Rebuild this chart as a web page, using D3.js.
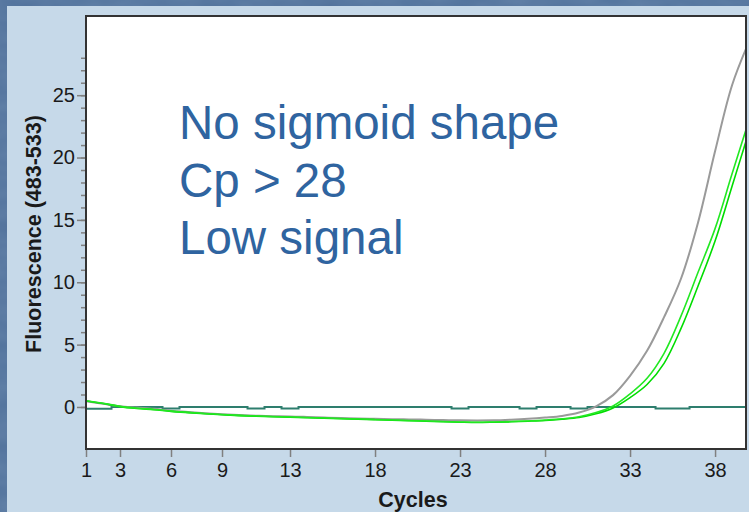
<!DOCTYPE html>
<html>
<head>
<meta charset="utf-8">
<script src="https://cdn.jsdelivr.net/npm/d3@7"></script>
<style>
  html, body { margin: 0; padding: 0; background: #50719b; }
  svg { display: block; }
</style>
</head>
<body>
<svg id="chart" width="749" height="512"></svg>
<script>
// ---- Data ----
const cycles = d3.range(1, 41); // 1..40
const grayCurve = [0.45, 0.25, 0.05, -0.05, -0.15, -0.3, -0.4, -0.5, -0.58, -0.65,
  -0.7, -0.74, -0.77, -0.8, -0.85, -0.88, -0.92, -0.95, -0.98, -1.0,
  -1.02, -1.05, -1.07, -1.08, -1.07, -1.02, -0.95, -0.85, -0.72, -0.45,
  0.05, 0.95, 2.5, 4.5, 7.2, 10.3, 14.8, 20.5, 25.8, 29.3];
const greenCurveA = [0.5, 0.3, 0.05, -0.1, -0.2, -0.33, -0.43, -0.52, -0.6, -0.67,
  -0.72, -0.76, -0.8, -0.84, -0.88, -0.92, -0.96, -1.0, -1.04, -1.08,
  -1.12, -1.17, -1.2, -1.22, -1.2, -1.17, -1.12, -1.05, -0.95, -0.78,
  -0.45, 0.08, 1.05, 2.3, 4.3, 7.3, 10.8, 14.3, 18.7, 23.0];
const greenCurveB = [0.48, 0.28, 0.03, -0.12, -0.22, -0.35, -0.45, -0.54, -0.62, -0.69,
  -0.74, -0.78, -0.82, -0.86, -0.9, -0.94, -0.98, -1.02, -1.06, -1.1,
  -1.14, -1.19, -1.22, -1.24, -1.22, -1.19, -1.14, -1.08, -0.98, -0.84,
  -0.55, -0.08, 0.75, 1.8, 3.5, 6.3, 9.7, 13.3, 17.7, 22.1];
const tealCurve = [-0.15, -0.15, 0, 0, 0, -0.12, 0, 0, 0, 0,
  -0.12, 0, -0.12, 0, 0, 0, 0, 0, 0, 0,
  0, 0, -0.12, 0, 0, 0, -0.12, 0, 0, -0.12,
  0, 0, 0, 0, -0.12, -0.12, 0, 0, 0, 0];
const xTickValues = [1, 3, 6, 9, 13, 18, 23, 28, 33, 38];
const yTickValues = [0, 5, 10, 15, 20, 25];
const yMinorTickValues = d3.range(0, 29);
const annotationLines = ["No sigmoid shape", "Cp > 28", "Low signal"];
const xLabel = "Cycles";
const yLabel = "Fluorescence (483-533)";

// ---- Layout ----
const W = 749, H = 512;
const plot = { left: 86, right: 746, top: 16, bottom: 449 };

const svg = d3.select("#chart");

// mottled slide background
const defs = svg.append("defs");
const filt = defs.append("filter").attr("id", "mottle").attr("x", 0).attr("y", 0).attr("width", "100%").attr("height", "100%");
filt.append("feTurbulence").attr("type", "fractalNoise").attr("baseFrequency", "0.02 0.05").attr("numOctaves", 3).attr("seed", 4).attr("result", "noise");
filt.append("feColorMatrix").attr("in", "noise").attr("type", "matrix")
  .attr("values", "0 0 0 0 0.38  0 0 0 0 0.52  0 0 0 0 0.68  0 0 0 0.45 0");

svg.append("rect").attr("x", 0).attr("y", 0).attr("width", W).attr("height", H).attr("fill", "#50719b");
svg.append("rect").attr("x", 0).attr("y", 0).attr("width", W).attr("height", H).attr("filter", "url(#mottle)").attr("opacity", 0.5);
// light panel
svg.append("rect").attr("x", 7).attr("y", 6).attr("width", W - 7).attr("height", H - 6).attr("fill", "#c6d9e9");

const x = d3.scaleLinear().domain([1, 39.82]).range([plot.left, plot.right]);
const y = d3.scaleLinear().domain([-3.37, 31.35]).range([plot.bottom, plot.top]);

// plot area
svg.append("rect")
  .attr("x", plot.left).attr("y", plot.top)
  .attr("width", plot.right - plot.left).attr("height", plot.bottom - plot.top)
  .attr("fill", "#ffffff");

defs.append("clipPath").attr("id", "clip")
  .append("rect")
  .attr("x", plot.left).attr("y", plot.top)
  .attr("width", plot.right - plot.left).attr("height", plot.bottom - plot.top);

const font = "'Liberation Sans', Arial, sans-serif";

// annotation text
const ann = svg.append("text")
  .attr("x", 179).attr("y", 139)
  .attr("font-family", font).attr("font-size", 47.5)
  .attr("fill", "#2f64a0");
annotationLines.forEach((t, i) => {
  ann.append("tspan").attr("x", 179).attr("y", 139 + i * 57.5).text(t);
});

// curves
const lineGen = d3.line().x((d, i) => x(cycles[i])).y(d => y(d)).curve(d3.curveCatmullRom.alpha(0.5));
const stepGen = d3.line().x((d, i) => x(cycles[i])).y(d => y(d)).curve(d3.curveStep);

const g = svg.append("g").attr("clip-path", "url(#clip)");
g.append("path").datum(tealCurve).attr("d", stepGen)
  .attr("fill", "none").attr("stroke", "#2e7e6e").attr("stroke-width", 2);
g.append("path").datum(grayCurve).attr("d", lineGen)
  .attr("fill", "none").attr("stroke", "#9a9a9a").attr("stroke-width", 2);
g.append("path").datum(greenCurveB).attr("d", lineGen)
  .attr("fill", "none").attr("stroke", "#00dd00").attr("stroke-width", 1.6);
g.append("path").datum(greenCurveA).attr("d", lineGen)
  .attr("fill", "none").attr("stroke", "#22e822").attr("stroke-width", 1.6);

// axes
const xAxis = d3.axisBottom(x).tickValues(xTickValues).tickSize(8).tickPadding(6).tickFormat(d3.format("d"));
const gx = svg.append("g").attr("transform", `translate(0,${plot.bottom})`).call(xAxis);
gx.select(".domain").remove();
gx.selectAll(".tick line").attr("stroke", "#808080").attr("stroke-width", 1.5);
gx.selectAll(".tick text").attr("font-family", font).attr("font-size", 20).attr("fill", "#1a1a1a");

const yMinor = d3.axisLeft(y).tickValues(yMinorTickValues).tickSize(5).tickFormat("");
const gyMinor = svg.append("g").attr("transform", `translate(${plot.left},0)`).call(yMinor);
gyMinor.select(".domain").remove();
gyMinor.selectAll(".tick line").attr("stroke", "#808080").attr("stroke-width", 1.5);

const yAxis = d3.axisLeft(y).tickValues(yTickValues).tickSize(9).tickPadding(2).tickFormat(d3.format("d"));
const gy = svg.append("g").attr("transform", `translate(${plot.left},0)`).call(yAxis);
gy.select(".domain").remove();
gy.selectAll(".tick line").attr("stroke", "#808080").attr("stroke-width", 1.5);
gy.selectAll(".tick text").attr("font-family", font).attr("font-size", 20).attr("fill", "#1a1a1a");

// frame
svg.append("rect")
  .attr("x", plot.left).attr("y", plot.top)
  .attr("width", plot.right - plot.left).attr("height", plot.bottom - plot.top)
  .attr("fill", "none").attr("stroke", "#333333").attr("stroke-width", 2);

// axis labels
svg.append("text")
  .attr("x", 413).attr("y", 507)
  .attr("text-anchor", "middle")
  .attr("font-family", font).attr("font-weight", "bold").attr("font-size", 21.5)
  .attr("fill", "#1a1a1a").text(xLabel);

svg.append("text")
  .attr("transform", "translate(41,234) rotate(-90)")
  .attr("text-anchor", "middle")
  .attr("font-family", font).attr("font-weight", "bold").attr("font-size", 21.5)
  .attr("fill", "#1a1a1a").text(yLabel);
</script>
</body>
</html>
